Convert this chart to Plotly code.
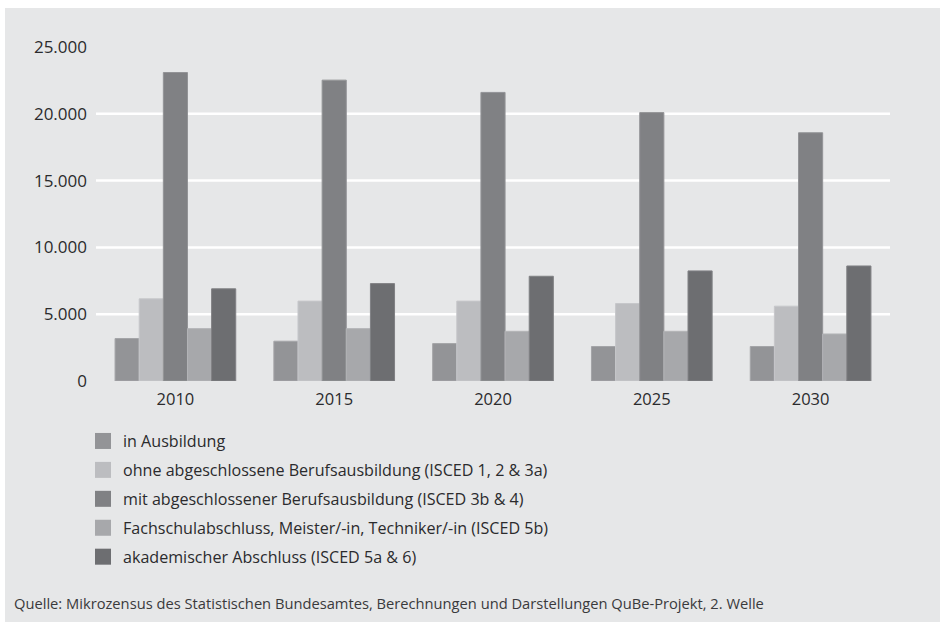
import plotly.graph_objects as go

years = ["2010", "2015", "2020", "2025", "2030"]

series_names = [
    "in Ausbildung",
    "ohne abgeschlossene Berufsausbildung (ISCED 1, 2 & 3a)",
    "mit abgeschlossener Berufsausbildung (ISCED 3b & 4)",
    "Fachschulabschluss, Meister/-in, Techniker/-in (ISCED 5b)",
    "akademischer Abschluss (ISCED 5a & 6)",
]

in_ausbildung = [3180, 2980, 2800, 2580, 2580]
ohne_abschluss = [6150, 5980, 5980, 5800, 5600]
mit_abschluss = [23090, 22520, 21600, 20090, 18580]
fachschule = [3920, 3920, 3720, 3720, 3520]
akademisch = [6900, 7290, 7840, 8240, 8610]

series_values = [in_ausbildung, ohne_abschluss, mit_abschluss, fachschule, akademisch]
series_colors = ["#939497", "#bcbdc0", "#808184", "#a7a8ab", "#6d6e71"]
edge_colors = ["#a4a5a8", "#c6c7ca", "#939497", "#b3b4b7", "#808184"]

y_ticks = [0, 5000, 10000, 15000, 20000, 25000]
y_tick_labels = ["0", "5.000", "10.000", "15.000", "20.000", "25.000"]

source_text = ("Quelle: Mikrozensus des Statistischen Bundesamtes, Berechnungen und "
               "Darstellungen QuBe-Projekt, 2. Welle")

FONT = "Open Sans"
TEXT = "#2b2b2d"

# plot area in pixels (940 x 622 canvas)
L, R, T, B = 96, 50, 47, 241
W, H = 940 - L - R, 622 - T - B

def px_x(x):
    return (x - L) / W

def px_y(y):
    return (622 - B - y) / H

fig = go.Figure()

for name, vals, col, edge in zip(series_names, series_values, series_colors, edge_colors):
    fig.add_trace(go.Bar(
        x=years, y=vals, name=name,
        marker=dict(color=col, line=dict(color=edge, width=1)),
        showlegend=False, legendgroup=name,
    ))

# legend entries with larger square swatches
for name, col in zip(series_names, series_colors):
    fig.add_trace(go.Scatter(
        x=[None], y=[None], mode="markers", name=name, legendgroup=name,
        marker=dict(symbol="square", size=16, color=col, line=dict(width=0)),
        showlegend=True,
    ))

shapes = [
    # light grey panel behind everything
    dict(type="rect", xref="paper", yref="paper",
         x0=px_x(5), x1=px_x(940), y0=px_y(622), y1=px_y(8),
         fillcolor="#e6e7e8", line=dict(width=0), layer="below"),
]
# white horizontal grid lines (interior ticks only)
for v in y_ticks[1:-1]:
    shapes.append(dict(type="line", xref="paper", yref="y", x0=0, x1=1, y0=v, y1=v,
                       line=dict(color="#ffffff", width=2.5), layer="below"))

fig.update_layout(
    width=940, height=622,
    margin=dict(l=L, r=R, t=T, b=B, pad=0),
    paper_bgcolor="#ffffff",
    plot_bgcolor="#d8d9db",
    barmode="group", bargap=0.24, bargroupgap=0,
    font=dict(family=FONT, color=TEXT, size=16),
    shapes=shapes,
    showlegend=True,
    legend=dict(
        x=px_x(83), xanchor="left",
        y=px_y(424), yanchor="top",
        bgcolor="rgba(0,0,0,0)",
        font=dict(family=FONT, size=16.1, color=TEXT),
        traceorder="grouped", tracegroupgap=5,
        itemsizing="trace",
    ),
    annotations=[
        dict(text=source_text, xref="paper", yref="paper",
             x=px_x(12), y=px_y(603), xanchor="left", yanchor="middle",
             showarrow=False, font=dict(family=FONT, size=14.7, color="#3a3a3c")),
    ],
)

fig.update_xaxes(
    showgrid=False, zeroline=False, showline=False, ticks="",
    tickfont=dict(family=FONT, size=16.5, color=TEXT),
    ticklabelstandoff=6,
)
fig.update_yaxes(
    range=[0, 25000], tickvals=y_ticks, ticktext=y_tick_labels,
    showgrid=False, zeroline=False, showline=False, ticks="",
    tickfont=dict(family=FONT, size=17, color=TEXT),
    ticklabelstandoff=8,
)

fig.write_html("out.html")
